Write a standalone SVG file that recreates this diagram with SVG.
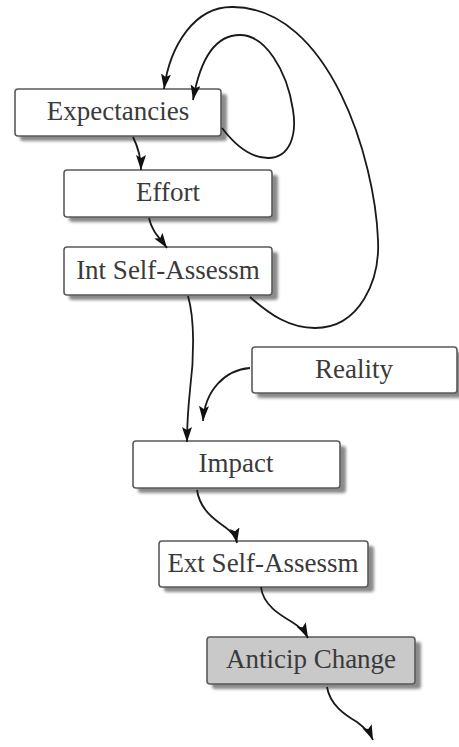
<svg xmlns="http://www.w3.org/2000/svg" width="459" height="747" viewBox="0 0 459 747">
<style>
.box{fill:#ffffff;stroke:#5a5a5a;stroke-width:1.6}
.grey{fill:#c9c9c9}
.sh{fill:#8a8a8a;filter:url(#blur)}
.lbl{font-family:"Liberation Serif","Times New Roman",Tinos,"Noto Serif","DejaVu Serif",FreeSerif,Times,serif;font-size:27px;fill:#3a3a3a;text-anchor:middle}
.edge{fill:none;stroke:#1a1a1a;stroke-width:1.8;marker-end:url(#arr)}
</style>
<defs>
<filter id="blur" x="-10%" y="-30%" width="120%" height="160%"><feGaussianBlur stdDeviation="1.6"/></filter>
<marker id="arr" markerUnits="userSpaceOnUse" markerWidth="16" markerHeight="11" refX="15" refY="5" orient="auto"><path d="M0,0 L15,5 L0,10 L3,5 z" fill="#111"/></marker>
</defs>
<rect width="459" height="747" fill="#ffffff"/>
<g id="expectancies">
<rect class="sh" x="20" y="94" width="207" height="47" rx="3"/>
<rect class="box" x="15" y="89" width="206" height="47" rx="3"/>
<text class="lbl" x="118" y="120">Expectancies</text>
</g>
<g id="effort">
<rect class="sh" x="69" y="175" width="209" height="47" rx="3"/>
<rect class="box" x="64" y="170" width="208" height="47" rx="3"/>
<text class="lbl" x="168" y="201">Effort</text>
</g>
<g id="int-self-assessm">
<rect class="sh" x="69" y="252" width="209" height="48" rx="3"/>
<rect class="box" x="64" y="247" width="208" height="48" rx="3"/>
<text class="lbl" x="168" y="279">Int Self-Assessm</text>
</g>
<g id="reality">
<rect class="sh" x="257" y="352" width="206" height="46" rx="3"/>
<rect class="box" x="252" y="347" width="205" height="46" rx="3"/>
<text class="lbl" x="354" y="378">Reality</text>
</g>
<g id="impact">
<rect class="sh" x="138" y="446" width="208" height="47" rx="3"/>
<rect class="box" x="133" y="441" width="207" height="47" rx="3"/>
<text class="lbl" x="236" y="472">Impact</text>
</g>
<g id="ext-self-assessm">
<rect class="sh" x="164" y="546" width="210" height="46" rx="3"/>
<rect class="box" x="159" y="541" width="209" height="46" rx="3"/>
<text class="lbl" x="263" y="572">Ext Self-Assessm</text>
</g>
<g id="anticip-change">
<rect class="sh" x="212" y="642" width="209" height="47" rx="3"/>
<rect class="box grey" x="207" y="637" width="208" height="47" rx="3"/>
<text class="lbl" x="311" y="668">Anticip Change</text>
</g>
<g id="connectors">
<path class="edge" d="M133,137 C137,145 141,155 141,170"/>
<path class="edge" d="M149,218 C152,232 160,238 167,248"/>
<path class="edge" d="M188,296 C195,320 194,360 190,390 C188,410 187,425 187,442"/>
<path class="edge" d="M250,368 C225,370 205,390 203,421"/>
<path class="edge" d="M250,297 C270,315 290,328 315,328 C360,328 380,280 378,240 C375,160 330,8 233,7 C195,6 170,45 164,89"/>
<path class="edge" d="M222,128 C235,145 250,158 268,158 C290,158 297,135 293,110 C287,70 265,35 240,35 C215,35 200,60 193,100"/>
<path class="edge" d="M197,490 C200,510 215,520 225,527 C232,532 236,537 237,543"/>
<path class="edge" d="M261,587 C263,605 280,615 292,622 C300,627 305,632 308,638"/>
<path class="edge" d="M327,687 C330,705 345,715 357,722 C365,728 370,733 373,740"/>
</g>
</svg>
